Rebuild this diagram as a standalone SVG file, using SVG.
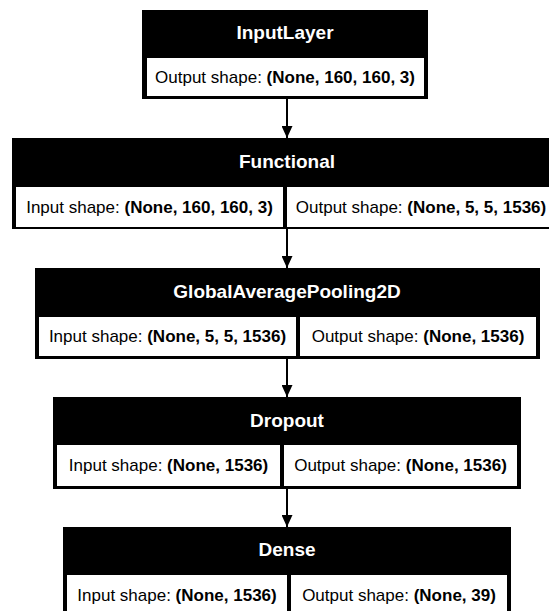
<svg xmlns="http://www.w3.org/2000/svg" width="549" height="611" viewBox="0 0 549 611">
<defs>
<marker id="ah" markerWidth="12" markerHeight="11" refX="12" refY="5.5" orient="auto" markerUnits="userSpaceOnUse" viewBox="0 0 12 11">
<path d="M0,0 L12,5.5 L0,11 Z" fill="#000"/>
</marker>
<style>
.box{fill:#000;}
.cell{fill:#fff;}
.title{font-family:"Liberation Sans",Arial,sans-serif;font-size:19px;font-weight:bold;fill:#fff;text-anchor:middle;}
.txt{font-family:"Liberation Sans",Arial,sans-serif;font-size:17px;fill:#000;text-anchor:middle;}
.b{font-weight:bold;}
.edge{stroke:#000;stroke-width:2;fill:none;}
</style>
</defs>
<rect width="549" height="611" fill="#fff"/>
<g id="connectors">
<line class="edge" x1="287" y1="99" x2="287" y2="138" marker-end="url(#ah)"/>
<line class="edge" x1="287" y1="229" x2="287" y2="268" marker-end="url(#ah)"/>
<line class="edge" x1="287" y1="359" x2="287" y2="397" marker-end="url(#ah)"/>
<line class="edge" x1="287" y1="489" x2="287" y2="527" marker-end="url(#ah)"/>
</g>
<g id="InputLayer">
<rect class="box" x="142" y="10" width="286" height="89"/>
<rect class="cell" x="147" y="58" width="277" height="38"/>
<text class="title" x="285" y="39">InputLayer</text>
<text class="txt" x="285" y="83">Output shape: <tspan class="b">(None, 160, 160, 3)</tspan></text>
</g>
<g id="Functional">
<rect class="box" x="12" y="138" width="545" height="91"/>
<rect class="cell" x="16" y="187" width="267" height="40"/>
<rect class="cell" x="287" y="187" width="270" height="40"/>
<text class="title" x="287" y="168">Functional</text>
<text class="txt" x="149.5" y="213">Input shape: <tspan class="b">(None, 160, 160, 3)</tspan></text>
<text class="txt" x="421" y="213">Output shape: <tspan class="b">(None, 5, 5, 1536)</tspan></text>
</g>
<g id="GlobalAveragePooling2D">
<rect class="box" x="35" y="268" width="505" height="91"/>
<rect class="cell" x="39" y="317" width="257" height="39"/>
<rect class="cell" x="300" y="317" width="236" height="39"/>
<text class="title" x="287" y="298">GlobalAveragePooling2D</text>
<text class="txt" x="167.5" y="342">Input shape: <tspan class="b">(None, 5, 5, 1536)</tspan></text>
<text class="txt" x="418" y="342">Output shape: <tspan class="b">(None, 1536)</tspan></text>
</g>
<g id="Dropout">
<rect class="box" x="53" y="397" width="468" height="92"/>
<rect class="cell" x="57" y="445" width="223" height="41"/>
<rect class="cell" x="284" y="445" width="233" height="41"/>
<text class="title" x="287" y="427">Dropout</text>
<text class="txt" x="168.5" y="471">Input shape: <tspan class="b">(None, 1536)</tspan></text>
<text class="txt" x="400.5" y="471">Output shape: <tspan class="b">(None, 1536)</tspan></text>
</g>
<g id="Dense">
<rect class="box" x="63" y="527" width="448" height="92"/>
<rect class="cell" x="67" y="575" width="220" height="41"/>
<rect class="cell" x="291" y="575" width="216" height="41"/>
<text class="title" x="287" y="556">Dense</text>
<text class="txt" x="177" y="601">Input shape: <tspan class="b">(None, 1536)</tspan></text>
<text class="txt" x="399" y="601">Output shape: <tspan class="b">(None, 39)</tspan></text>
</g>
</svg>
